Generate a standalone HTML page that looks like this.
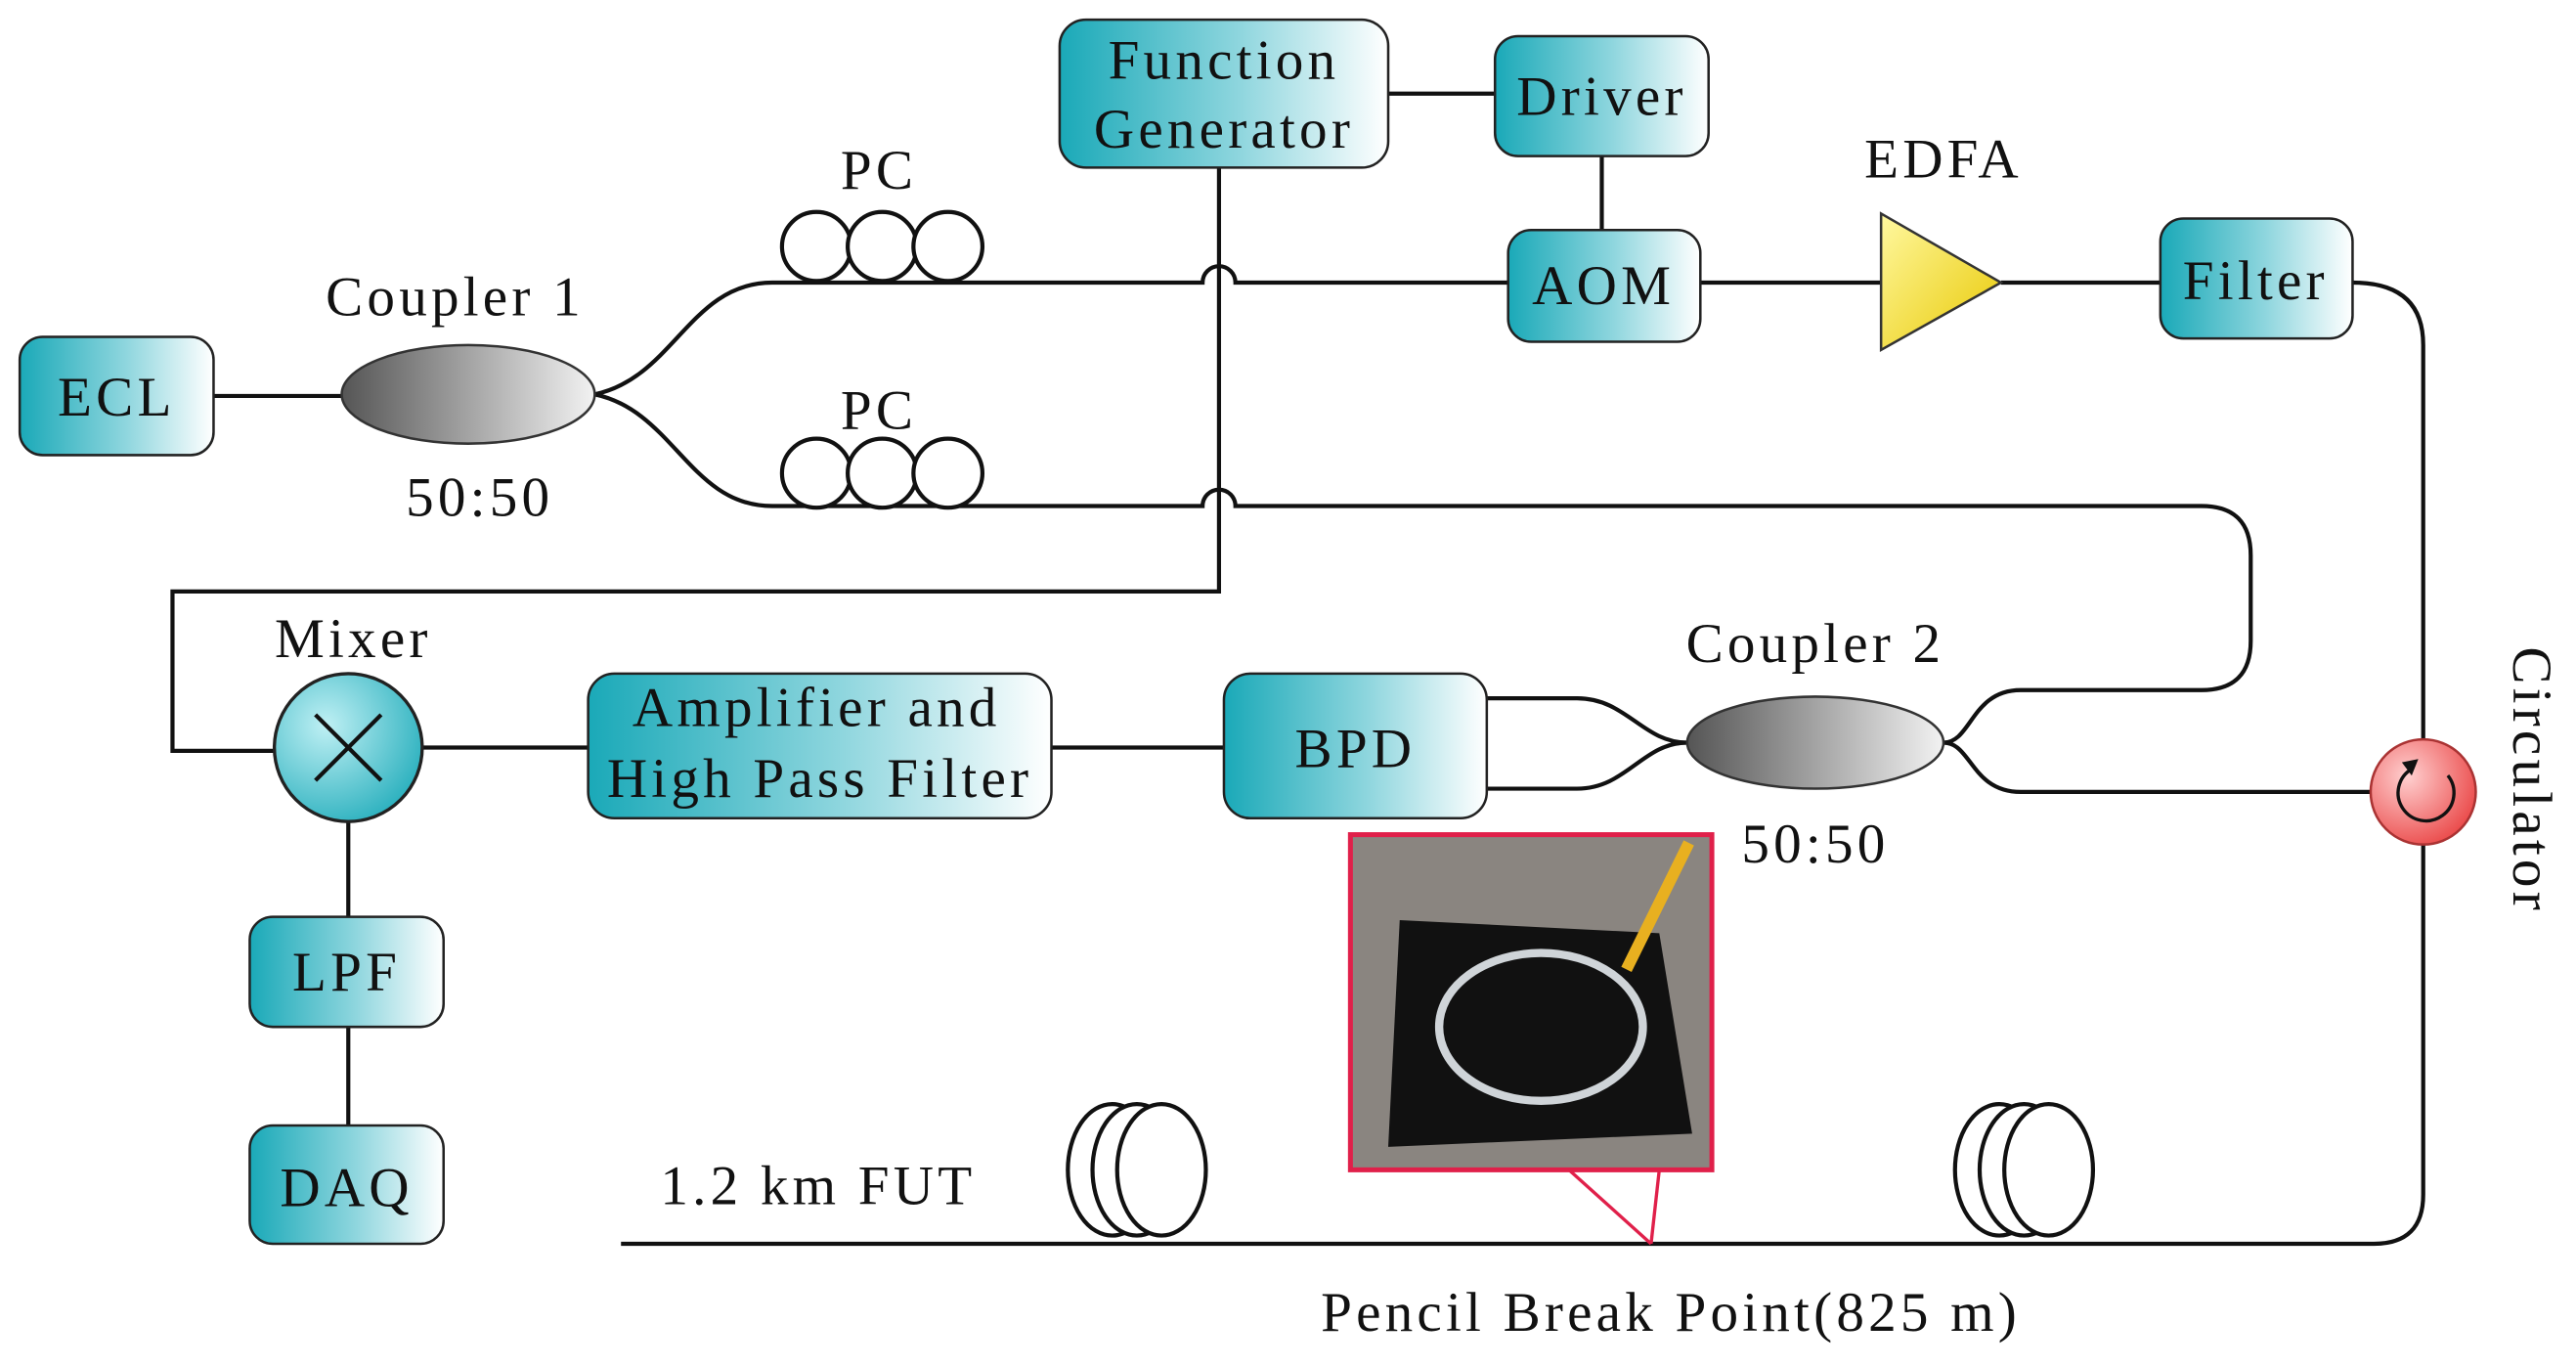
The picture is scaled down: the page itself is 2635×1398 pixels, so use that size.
<!DOCTYPE html>
<html><head><meta charset="utf-8"><style>
html,body{margin:0;padding:0;background:#fff;}
svg{display:block;}
text{font-family:"Liberation Serif",serif;fill:#111;letter-spacing:2.5px;}
</style></head><body>
<svg width="2635" height="1398" viewBox="0 0 1568 832" preserveAspectRatio="none" xmlns="http://www.w3.org/2000/svg">
<defs>
<linearGradient id="tb" x1="0" y1="0" x2="1" y2="0">
<stop offset="0" stop-color="#1aa9b8"/><stop offset="0.55" stop-color="#8fd6de"/><stop offset="1" stop-color="#ffffff"/>
</linearGradient>
<linearGradient id="cg" x1="0" y1="0" x2="1" y2="0">
<stop offset="0" stop-color="#555"/><stop offset="1" stop-color="#f2f2f2"/>
</linearGradient>
<linearGradient id="yg" x1="0" y1="0" x2="1" y2="1">
<stop offset="0" stop-color="#fff8a0"/><stop offset="1" stop-color="#e8c800"/>
</linearGradient>
<radialGradient id="rg" cx="0.35" cy="0.35" r="0.8">
<stop offset="0" stop-color="#ffd0d0"/><stop offset="1" stop-color="#e83a3a"/>
</radialGradient>
<radialGradient id="mg" cx="0.35" cy="0.35" r="0.8">
<stop offset="0" stop-color="#bff0f4"/><stop offset="1" stop-color="#1aa9b8"/>
</radialGradient>
</defs>
<g fill="none" stroke="#111" stroke-width="2.5">
<line x1="130" y1="241" x2="208" y2="241"/>
<path d="M362 240 C410 230,420 172,470 172 L732 172 A10 10 0 0 1 752 172 L918 172"/>
<path d="M362 240 C410 250,420 308,470 308 L732 308 A10 10 0 0 1 752 308 L1340 308 Q1370 308 1370 338 L1370 390 Q1370 420 1340 420 L1230 420 C1200 420,1200 452,1183 452"/>
<path d="M1183 452 C1200 452,1200 482,1230 482 L1443 482"/>
<path d="M742 102 L742 360 L105 360 L105 457 L167 457"/>
<line x1="845" y1="57" x2="910" y2="57"/>
<line x1="975" y1="95" x2="975" y2="140"/>
<line x1="1035" y1="172" x2="1145" y2="172"/>
<line x1="1218" y1="172" x2="1315" y2="172"/>
<path d="M1432 172 Q1475 172 1475 210 L1475 450"/>
<path d="M1475 514 L1475 727 Q1475 757 1445 757 L378 757"/>
<path d="M1027 452 C1000 452,990 425,960 425 L905 425"/>
<path d="M1027 452 C1000 452,990 480,960 480 L905 480"/>
<line x1="640" y1="455" x2="745" y2="455"/>
<line x1="257" y1="455" x2="358" y2="455"/>
<line x1="212" y1="500" x2="212" y2="558"/>
<line x1="212" y1="625" x2="212" y2="685"/>
</g>
<g fill="#fff" stroke="#111" stroke-width="2.5">
<circle cx="497" cy="150" r="21"/><circle cx="537" cy="150" r="21"/><circle cx="577" cy="150" r="21"/>
<circle cx="497" cy="288" r="21"/><circle cx="537" cy="288" r="21"/><circle cx="577" cy="288" r="21"/>
</g>
<ellipse cx="285" cy="240" rx="77" ry="30" fill="url(#cg)" stroke="#333" stroke-width="1.5"/>
<ellipse cx="1105" cy="452" rx="78" ry="28" fill="url(#cg)" stroke="#333" stroke-width="1.5"/>
<g fill="url(#tb)" stroke="#222" stroke-width="1.5">
<rect x="12" y="205" width="118" height="72" rx="14"/>
<rect x="645" y="12" width="200" height="90" rx="16"/>
<rect x="910" y="22" width="130" height="73" rx="14"/>
<rect x="918" y="140" width="117" height="68" rx="14"/>
<rect x="1315" y="133" width="117" height="73" rx="14"/>
<rect x="358" y="410" width="282" height="88" rx="16"/>
<rect x="745" y="410" width="160" height="88" rx="16"/>
<rect x="152" y="558" width="118" height="67" rx="14"/>
<rect x="152" y="685" width="118" height="72" rx="14"/>
</g>
<polygon points="1145,130 1145,213 1218,172" fill="url(#yg)" stroke="#333" stroke-width="1.5"/>
<circle cx="212" cy="455" r="45" fill="url(#mg)" stroke="#222" stroke-width="2"/>
<g stroke="#111" stroke-width="2.5"><line x1="192" y1="435" x2="232" y2="475"/><line x1="232" y1="435" x2="192" y2="475"/></g>
<circle cx="1475" cy="482" r="32" fill="url(#rg)" stroke="#a33" stroke-width="1.5"/>
<path d="M1490 472 A17 17 0 1 1 1468 468" fill="none" stroke="#111" stroke-width="2"/>
<polygon points="1462,464 1472,462 1468,472" fill="#111"/>
<g fill="#fff" stroke="#111" stroke-width="2.5">
<ellipse cx="677" cy="712" rx="27" ry="40"/><ellipse cx="692" cy="712" rx="27" ry="40"/><ellipse cx="707" cy="712" rx="27" ry="40"/>
<ellipse cx="1217" cy="712" rx="27" ry="40"/><ellipse cx="1232" cy="712" rx="27" ry="40"/><ellipse cx="1247" cy="712" rx="27" ry="40"/>
</g>
<rect x="822" y="508" width="220" height="204" fill="#8a8580" stroke="#e0204a" stroke-width="3"/>
<polygon points="852,560 1010,568 1030,690 845,698" fill="#111"/>
<ellipse cx="938" cy="625" rx="62" ry="45" fill="none" stroke="#cfd4d8" stroke-width="5"/>
<line x1="990" y1="590" x2="1028" y2="513" stroke="#e8b020" stroke-width="7"/>
<line x1="955" y1="712" x2="1005" y2="757" stroke="#e0204a" stroke-width="2"/>
<line x1="1010" y1="712" x2="1005" y2="757" stroke="#e0204a" stroke-width="2"/>
<g font-size="34" text-anchor="middle">
<text x="71" y="253">ECL</text>
<text x="745" y="48">Function</text>
<text x="745" y="90">Generator</text>
<text x="975" y="70">Driver</text>
<text x="976" y="185">AOM</text>
<text x="1373" y="182">Filter</text>
<text x="1183" y="108">EDFA</text>
<text x="535" y="115">PC</text>
<text x="535" y="261">PC</text>
<text x="277" y="192">Coupler 1</text>
<text x="292" y="314">50:50</text>
<text x="1105" y="403">Coupler 2</text>
<text x="1105" y="525">50:50</text>
<text x="215" y="400">Mixer</text>
<text x="497" y="442">Amplifier and</text>
<text x="499" y="485">High Pass Filter</text>
<text x="825" y="467">BPD</text>
<text x="211" y="603">LPF</text>
<text x="211" y="734">DAQ</text>
<text x="498" y="733">1.2 km FUT</text>
<text x="1017" y="810">Pencil Break Point(825 m)</text>
<text x="1530" y="475" transform="rotate(90 1530 475)">Circulator</text>
</g>
</svg>
</body></html>
